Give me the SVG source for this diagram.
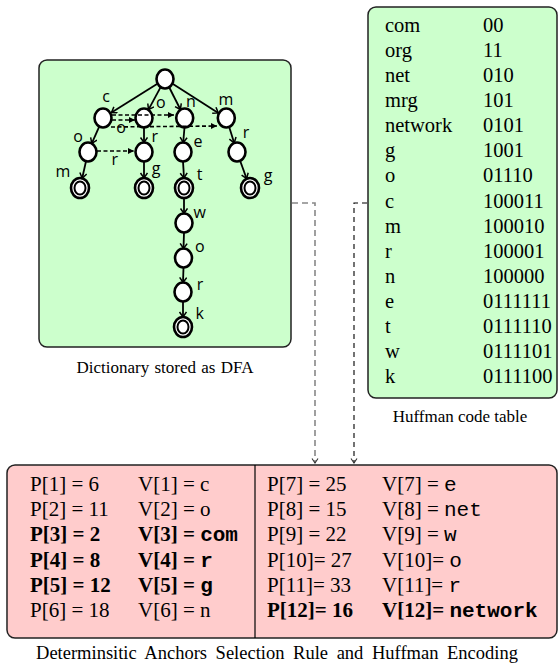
<svg xmlns="http://www.w3.org/2000/svg" width="558" height="664" viewBox="0 0 558 664">
<defs>
<marker id="vee" markerWidth="10" markerHeight="10" refX="6" refY="4" orient="auto" markerUnits="userSpaceOnUse"><path d="M1,0.5 L6,4 L1,7.5" fill="none" stroke="#000" stroke-width="1.5"/></marker>
<marker id="tri" markerWidth="10" markerHeight="10" refX="6" refY="3" orient="auto" markerUnits="userSpaceOnUse"><path d="M0,0 L6,3 L0,6 z" fill="#000"/></marker>
<marker id="veeS" markerWidth="10" markerHeight="10" refX="5" refY="3.5" orient="auto" markerUnits="userSpaceOnUse"><path d="M0.5,0.5 L5,3.5 L0.5,6.5" fill="none" stroke="#333" stroke-width="1.1"/></marker>
</defs>
<style>
.pg{fill:#ccffcc;stroke:#222;stroke-width:1.5}
.pr{fill:#ffcccc;stroke:#222;stroke-width:1.5}
.st{fill:#fff;stroke:#000;stroke-width:2.6}
.st2{fill:#fff;stroke:#000;stroke-width:2}
.lbl{font-family:"Open Sans",sans-serif;font-size:16px;text-anchor:middle;fill:#000}
.tm{font-family:"Liberation Serif",serif;font-size:20.5px;fill:#000}
.tb{font-family:"Liberation Serif",serif;font-size:21px;fill:#000}
.mono{font-family:"Liberation Mono",monospace}
.b{font-weight:bold}
.cap{font-family:"Liberation Serif",serif;font-size:17px;text-anchor:middle;fill:#000}
.e{stroke:#000;stroke-width:1.8;fill:none;marker-end:url(#vee)}
.d{stroke:#000;stroke-width:1.6;stroke-dasharray:4 2.5;fill:none;marker-end:url(#tri)}
</style>
<rect width="558" height="664" fill="#fff"/>

<g id="dfa-panel">
<rect class="pg" x="39" y="60" width="252" height="287" rx="8"/>
<text class="cap" x="165" y="373" word-spacing="1">Dictionary stored as DFA</text>
</g>

<g id="node-root"><ellipse class="st" cx="165" cy="79" rx="8.5" ry="9.5"/></g>
<g id="node-c"><ellipse class="st" cx="103" cy="118" rx="8.5" ry="9.5"/></g>
<g id="node-o1"><ellipse class="st" cx="144" cy="118" rx="8.5" ry="9.5"/></g>
<g id="node-n"><ellipse class="st" cx="184.7" cy="118" rx="8.5" ry="9.5"/></g>
<g id="node-m"><ellipse class="st" cx="226.3" cy="118" rx="8.5" ry="9.5"/></g>
<g id="node-co"><ellipse class="st" cx="88" cy="152" rx="8.5" ry="9.5"/></g>
<g id="node-or"><ellipse class="st" cx="144" cy="152" rx="8.5" ry="9.5"/></g>
<g id="node-ne"><ellipse class="st" cx="183" cy="152" rx="8.5" ry="9.5"/></g>
<g id="node-mr"><ellipse class="st" cx="237" cy="152" rx="8.5" ry="9.5"/></g>
<g id="node-com"><ellipse class="st" cx="80" cy="188" rx="9" ry="10"/><ellipse class="st2" cx="80" cy="188" rx="5.5" ry="6.5"/></g>
<g id="node-org"><ellipse class="st" cx="144" cy="188" rx="9" ry="10"/><ellipse class="st2" cx="144" cy="188" rx="5.5" ry="6.5"/></g>
<g id="node-net"><ellipse class="st" cx="184" cy="188" rx="9" ry="10"/><ellipse class="st2" cx="184" cy="188" rx="5.5" ry="6.5"/></g>
<g id="node-mrg"><ellipse class="st" cx="250" cy="188" rx="9" ry="10"/><ellipse class="st2" cx="250" cy="188" rx="5.5" ry="6.5"/></g>
<g id="node-w"><ellipse class="st" cx="184" cy="223" rx="8.5" ry="9.5"/></g>
<g id="node-wo"><ellipse class="st" cx="183.5" cy="258" rx="8.5" ry="9.5"/></g>
<g id="node-wor"><ellipse class="st" cx="183" cy="292" rx="8.5" ry="9.5"/></g>
<g id="node-network"><ellipse class="st" cx="183" cy="327" rx="9" ry="10"/><ellipse class="st2" cx="183" cy="327" rx="5.5" ry="6.5"/></g>

<g id="huffman-table">
<rect class="pg" x="368" y="7" width="189" height="391" rx="8"/>
<g class="tm">
<text x="385" y="32">com</text><text x="483" y="32">00</text>
<text x="385" y="57.1">org</text><text x="483" y="57.1">11</text>
<text x="385" y="82.1">net</text><text x="483" y="82.1">010</text>
<text x="385" y="107.2">mrg</text><text x="483" y="107.2">101</text>
<text x="385" y="132.3">network</text><text x="483" y="132.3">0101</text>
<text x="385" y="157.4">g</text><text x="483" y="157.4">1001</text>
<text x="385" y="182.4">o</text><text x="483" y="182.4">01110</text>
<text x="385" y="207.5">c</text><text x="483" y="207.5">100011</text>
<text x="385" y="232.6">m</text><text x="483" y="232.6">100010</text>
<text x="385" y="257.6">r</text><text x="483" y="257.6">100001</text>
<text x="385" y="282.7">n</text><text x="483" y="282.7">100000</text>
<text x="385" y="307.8">e</text><text x="483" y="307.8">0111111</text>
<text x="385" y="332.8">t</text><text x="483" y="332.8">0111110</text>
<text x="385" y="357.9">w</text><text x="483" y="357.9">0111101</text>
<text x="385" y="383">k</text><text x="483" y="383">0111100</text>
</g>
<text class="cap" x="460" y="422">Huffman code table</text>
</g>

<g id="anchors-table">
<rect class="pr" x="7" y="465" width="550" height="173" rx="8"/>
<line x1="255" y1="465" x2="255" y2="638" stroke="#000" stroke-width="1.2"/>
<g class="tb">
<text x="30" y="491">P[1] = 6</text><text x="138" y="491">V[1] = c</text>
<text x="30" y="516.2">P[2] = 11</text><text x="138" y="516.2">V[2] = o</text>
<text class="b" x="30" y="541.4">P[3] = 2</text><text class="b" x="138" y="541.4">V[3] = <tspan class="mono">com</tspan></text>
<text class="b" x="30" y="566.6">P[4] = 8</text><text class="b" x="138" y="566.6">V[4] = <tspan class="mono">r</tspan></text>
<text class="b" x="30" y="591.8">P[5] = 12</text><text class="b" x="138" y="591.8">V[5] = <tspan class="mono">g</tspan></text>
<text x="30" y="617">P[6] = 18</text><text x="138" y="617">V[6] = n</text>
<text x="267" y="491">P[7] = 25</text><text x="382" y="491">V[7] = <tspan class="mono">e</tspan></text>
<text x="267" y="516.2">P[8] = 15</text><text x="382" y="516.2">V[8] = <tspan class="mono">net</tspan></text>
<text x="267" y="541.4">P[9] = 22</text><text x="382" y="541.4">V[9] = <tspan class="mono">w</tspan></text>
<text x="267" y="566.6">P[10]= 27</text><text x="382" y="566.6">V[10]= <tspan class="mono">o</tspan></text>
<text x="267" y="591.8">P[11]= 33</text><text x="382" y="591.8">V[11]= <tspan class="mono">r</tspan></text>
<text class="b" x="267" y="617">P[12]= 16</text><text class="b" x="382" y="617">V[12]= <tspan class="mono">network</tspan></text>
</g>
<text class="cap" x="277" y="659" style="font-size:18.5px" word-spacing="4">Determinsitic Anchors Selection Rule and Huffman Encoding</text>
</g>

<g id="connectors">
<path class="e" d="M157,84 L111.5,112.5"/>
<path class="e" d="M160.5,87.4 L148.5,109.6"/>
<path class="e" d="M169.3,87.5 L180.4,109.5"/>
<path class="e" d="M173,84 L218.3,112.9"/>
<path class="e" d="M99.2,126.7 L91.8,143.3"/>
<path class="e" d="M144,127.5 L144,142.5"/>
<path class="e" d="M184.5,127.5 L183.2,142.5"/>
<path class="e" d="M229.2,127 L234.2,142.9"/>
<path class="e" d="M86,161.3 L82.2,178.2"/>
<path class="e" d="M144,161.5 L144,178"/>
<path class="e" d="M183,161.5 L184,178"/>
<path class="e" d="M240.2,161 L246.6,178.6"/>
<path class="e" d="M184,198 L184,213.5"/>
<path class="e" d="M184,232.5 L183.5,248.5"/>
<path class="e" d="M183.5,267.5 L183,282.5"/>
<path class="e" d="M183,301.5 L183,317"/>
<path class="d" d="M112,115 L174,115"/>
<path class="d" d="M112,120 L135,120"/>
<path class="d" d="M111,127 L217,126"/>
<path class="d" d="M97,151 L134,151"/>
<path d="M292,203 H315 V463" fill="none" stroke="#888" stroke-width="1.6" stroke-dasharray="6 4" marker-end="url(#veeS)"/>
<path d="M367,203 H354 V463" fill="none" stroke="#000" stroke-width="1.1" stroke-dasharray="5 4" marker-end="url(#veeS)"/>
<g class="lbl">
<text x="106" y="101.5">c</text>
<text x="160.7" y="107.5">o</text>
<text x="191" y="106.5">n</text>
<text x="226" y="104.5">m</text>
<text x="78" y="141.5">o</text>
<text x="121" y="132.5">o</text>
<text x="154.7" y="141.5">r</text>
<text x="198" y="146.5">e</text>
<text x="246" y="137.5">r</text>
<text x="114.7" y="164.5">r</text>
<text x="63" y="176.5">m</text>
<text x="156" y="174">g</text>
<text x="199.7" y="180">t</text>
<text x="268" y="181">g</text>
<text x="199.7" y="217.5">w</text>
<text x="199.7" y="251.5">o</text>
<text x="200" y="289.5">r</text>
<text x="199.7" y="318.5">k</text>
</g>
</g>
</svg>
